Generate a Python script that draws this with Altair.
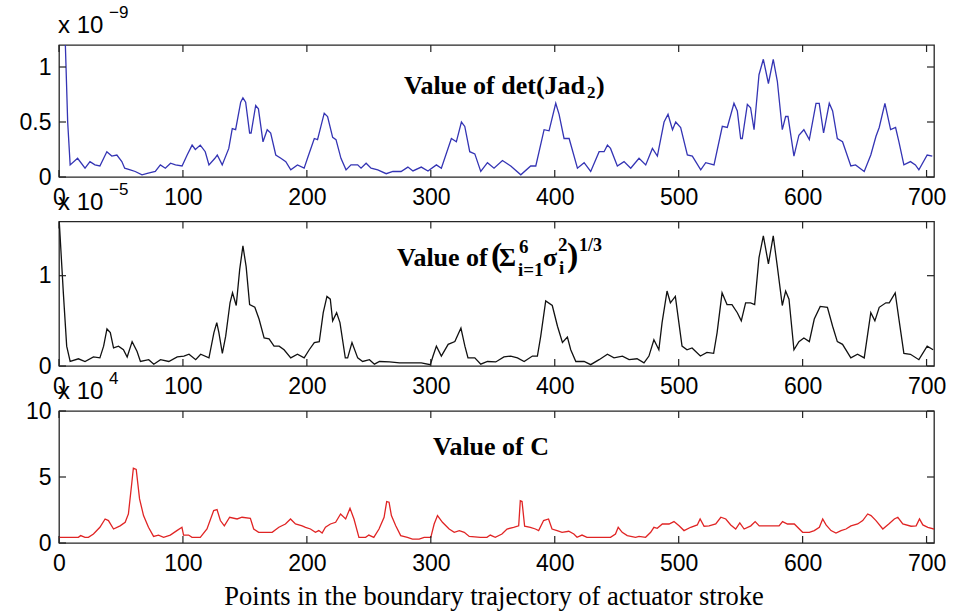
import altair as alt
import pandas as pd

# ---------------- data ----------------
x_tick_values = [0, 100, 200, 300, 400, 500, 600, 700]

# Panel 1: det(Jad2)  (x 1e-9)
det_x_a = [0, 5, 7, 9, 15, 21, 25, 29, 33, 38.6, 42.6, 46.7, 50.7, 53, 57.5, 61.5, 67, 72, 77.7, 81.8,
           85.8, 90, 94, 99.3, 103.4, 107.4, 110, 114, 118, 121, 125.8, 127.7, 131.7, 137, 139.8, 142.5,
           146.6, 148.4, 150.6, 153.8, 155, 158.7, 160.9, 164.6, 168, 170.8, 174.9, 179, 183, 187, 192.4,
           197.8, 200.5, 206, 208.6, 214, 216.7, 220.8, 223.5, 227.5, 231.6, 235.6, 241, 243.7, 247.8,
           251.8, 257.2, 264, 269.4, 276, 281.5, 285.6, 292.3, 297.7, 304.5, 308.5, 316.6, 320.6, 324.7,
           327.4, 331.4, 335.5]
det_y_a = [1.6, 1.25, 0.5, 0.11, 0.17, 0.08, 0.14, 0.11, 0.1, 0.23, 0.19, 0.2, 0.14, 0.08, 0.065, 0.05,
           0.02, 0.035, 0.05, 0.11, 0.08, 0.125, 0.11, 0.1, 0.2, 0.29, 0.25, 0.29, 0.23, 0.11, 0.17, 0.2,
           0.11, 0.26, 0.44, 0.43, 0.68, 0.72, 0.68, 0.4, 0.4, 0.65, 0.62, 0.32, 0.43, 0.4, 0.2, 0.17, 0.14,
           0.065, 0.11, 0.08, 0.17, 0.35, 0.34, 0.58, 0.55, 0.36, 0.34, 0.17, 0.065, 0.11, 0.11, 0.08,
           0.125, 0.08, 0.065, 0.03, 0.05, 0.05, 0.09, 0.055, 0.09, 0.055, 0.11, 0.08, 0.35, 0.32, 0.5,
           0.46, 0.23, 0.21]
det_x_b = [340.3, 345.7, 351, 357.8, 364.5, 372.6, 380.6, 384.7, 391.4, 395.4, 400.8, 403.5, 407.5, 411.6,
           418.3, 423.7, 429, 435.8, 439.8, 442.5, 445, 450.5, 455.9, 461.3, 468, 473.4, 478.8, 482.8,
           488.2, 491.4, 495, 497.6, 501.6, 507, 511, 517.8, 521.8, 528.5, 535.2, 539.2, 544.6, 547.3, 550,
           551.3, 555.4, 558, 560.8, 564.8, 568.3, 572.4, 576.3, 579.6, 583.6, 586.3, 588.2, 593, 597, 601,
           605.4, 610.8, 613.4, 616.9, 621.5, 624.2, 628, 632.2, 638.9, 642.7, 649.7, 655, 659.2, 661.8,
           666.4, 671, 675, 677.7, 681.7, 687, 691, 693.8, 700.5, 704.6]
det_y_b = [0.05, 0.13, 0.08, 0.15, 0.1, 0.02, 0.1, 0.1, 0.43, 0.42, 0.67, 0.57, 0.35, 0.35, 0.08, 0.13,
           0.05, 0.23, 0.23, 0.29, 0.26, 0.1, 0.14, 0.08, 0.17, 0.11, 0.26, 0.19, 0.5, 0.57, 0.43, 0.5,
           0.45, 0.2, 0.19, 0.065, 0.13, 0.11, 0.46, 0.45, 0.67, 0.6, 0.35, 0.35, 0.66, 0.63, 0.43, 0.93,
           1.07, 0.85, 1.07, 0.87, 0.43, 0.55, 0.55, 0.19, 0.38, 0.43, 0.34, 0.67, 0.67, 0.4, 0.67, 0.6,
           0.35, 0.32, 0.1, 0.11, 0.05, 0.2, 0.37, 0.45, 0.67, 0.43, 0.45, 0.32, 0.11, 0.14, 0.11, 0.065,
           0.2, 0.19]

# Panel 2: (sum sigma_i^2)^(1/3)  (x 1e-5)
sig_x_a = [0, 3.5, 6.2, 9, 15.7, 21, 27.8, 33, 36, 38.7, 41.4, 44, 48, 52, 55, 59, 63, 65.7, 72.4, 76.5,
           81.9, 88.6, 95.4, 100.8, 104.9, 110.3, 114.3, 121, 125, 127.3, 129, 131.8, 134.5, 138, 140, 143,
           145.8, 148.4, 151, 153.8, 158, 161.4, 165.5, 169.5, 173.5, 177.6, 181.6, 187, 192.4, 197.8,
           201.9, 206, 210, 213.2, 216.2, 218.9, 220.8, 224, 226.7, 231, 232.9, 236.4, 241, 245, 250.5,
           254.5, 258.6, 266.7, 274.8, 282.9, 292.3, 299.6, 301.8, 304.5, 308.5, 314, 319.4, 324.3, 327.5,
           330, 335.5]
sig_y_a = [1.65, 0.81, 0.22, 0.05, 0.08, 0.05, 0.1, 0.09, 0.22, 0.41, 0.37, 0.2, 0.22, 0.18, 0.1, 0.27,
           0.16, 0.05, 0.07, 0.02, 0.07, 0.05, 0.1, 0.11, 0.13, 0.07, 0.13, 0.09, 0.37, 0.48, 0.37, 0.14,
           0.33, 0.7, 0.81, 0.67, 1.07, 1.33, 1.1, 0.68, 0.65, 0.52, 0.31, 0.3, 0.22, 0.22, 0.18, 0.09,
           0.13, 0.09, 0.18, 0.26, 0.27, 0.59, 0.77, 0.74, 0.5, 0.59, 0.48, 0.09, 0.09, 0.26, 0.09, 0.05,
           0.07, 0.02, 0.05, 0.045, 0.035, 0.035, 0.035, 0.015, 0.11, 0.22, 0.11, 0.24, 0.27, 0.42, 0.22,
           0.09, 0.09]
sig_x_b = [340.3, 345.7, 352.4, 359, 364.5, 369.9, 375.3, 382, 386, 388.7, 392.7, 398, 402.2, 406.2,
           410.2, 412.9, 417, 423.7, 429, 435.8, 442.5, 447.8, 454.6, 460, 466.4, 472, 476, 480, 484,
           486.6, 490.6, 493.3, 497.3, 502.7, 506.7, 510.8, 517.5, 522.8, 528.2, 531, 535, 539, 543, 547.3,
           550.5, 554, 558, 561.3, 564.8, 568.3, 572.4, 576.3, 579.6, 583.6, 586.3, 589, 593, 597, 601,
           605.4, 609.4, 614.2, 620, 624.2, 628, 632.2, 638.9, 644.3, 649.7, 655, 658.3, 661.8, 667.2,
           669.9, 674.7, 677.7, 681.7, 687, 693.8, 700.5, 705.3]
sig_y_b = [0.02, 0.05, 0.045, 0.1, 0.11, 0.09, 0.05, 0.11, 0.11, 0.33, 0.72, 0.67, 0.44, 0.26, 0.32,
           0.18, 0.05, 0.05, 0.015, 0.07, 0.13, 0.09, 0.11, 0.07, 0.08, 0.035, 0.11, 0.29, 0.18, 0.48,
           0.83, 0.7, 0.77, 0.22, 0.18, 0.2, 0.11, 0.15, 0.14, 0.37, 0.81, 0.68, 0.68, 0.59, 0.5, 0.7, 0.7,
           0.68, 1.2, 1.44, 1.13, 1.44, 1.1, 0.67, 0.83, 0.74, 0.18, 0.27, 0.31, 0.27, 0.52, 0.66, 0.65,
           0.44, 0.27, 0.24, 0.09, 0.13, 0.09, 0.59, 0.5, 0.65, 0.7, 0.7, 0.81, 0.52, 0.14, 0.13, 0.07,
           0.22, 0.18]

# Panel 3: C  (x 1e4)
c_x_a = [0, 15.6, 17.5, 21, 23.7, 27.8, 33, 37.2, 39.9, 44, 49.3, 53.4, 56, 58.8, 60, 62.3, 65, 68.2,
         72.2, 76.3, 80.3, 84.4, 89.8, 95.1, 99.2, 100.5, 104.6, 107.3, 114, 119.4, 124.8, 127.5, 130.2,
         133.4, 137.7, 143.7, 147.7, 154.4, 157.1, 161.1, 165.2, 172, 177.4, 182.7, 186.8, 190.8, 196.2,
         198.9, 202.9, 206.9, 209.6, 212.3, 215, 219, 223.2, 227.2, 231.3, 234.8, 238, 242, 247.4, 250,
         254, 258.2, 262.3, 264.4, 266.3, 268.2, 271.7, 275.7, 281.1, 285.2, 290.6, 294.6, 300, 302.7,
         305.4, 309.4, 314.8, 318.9, 323, 327, 331]
c_y_a = [0.43, 0.43, 0.56, 0.43, 0.43, 0.68, 1.19, 1.82, 1.7, 1.06, 1.3, 1.57, 2.2, 4.6, 5.67, 5.57,
         3.34, 2.08, 1.19, 0.5, 0.6, 0.43, 0.6, 0.94, 1.19, 0.6, 0.6, 0.43, 0.43, 1.06, 2.46, 2.53, 1.7,
         1.3, 1.95, 1.82, 1.95, 1.87, 1.06, 0.81, 0.81, 0.81, 1.19, 1.44, 1.82, 1.44, 1.3, 1.19, 1.06,
         0.81, 0.94, 0.76, 1.19, 1.44, 1.57, 2.2, 1.82, 2.63, 1.82, 0.43, 0.43, 0.6, 0.43, 1.06, 1.95,
         3.14, 3.09, 2.08, 1.3, 0.56, 0.43, 0.3, 0.3, 0.43, 0.43, 1.44, 2.08, 1.57, 1.06, 0.81, 0.94,
         0.81, 0.5]
c_x_b = [340, 345.3, 348, 352, 357.4, 361.5, 366.8, 370.9, 372.2, 373.6, 375.7, 380.3, 384.4, 387, 391,
         395, 397.8, 401.9, 405.9, 411.3, 415.4, 418, 422, 426, 445, 449, 451.2, 454.4, 458.5, 465.2,
         468, 473.3, 477.4, 480, 482.7, 486.8, 492.2, 496.2, 500.3, 504.3, 509.7, 515, 517.3, 520.5,
         524.5, 529.9, 534, 538, 542, 546, 549.3, 552.8, 558.2, 561.7, 565, 573, 581, 583.8, 587.8,
         593.3, 600, 605.4, 609.4, 613.5, 616.2, 618.9, 622.9, 626.9, 631, 635, 639, 644.4, 648.5,
         652.5, 655.2, 659.2, 664.7, 669.5, 674, 676.8, 680.8, 687.5, 691.6, 694.3, 697, 701, 706]
c_y_b = [0.43, 0.43, 0.6, 0.43, 0.68, 1.06, 1.19, 1.3, 3.2, 3.14, 1.27, 1.19, 1.06, 0.94, 1.7, 1.82,
         1.06, 0.94, 0.81, 0.89, 0.68, 0.43, 0.6, 0.43, 0.43, 0.68, 1.19, 0.81, 0.56, 0.43, 0.5, 0.43,
         0.81, 1.19, 1.11, 1.44, 1.44, 1.62, 1.3, 0.94, 1.19, 1.37, 1.82, 1.27, 1.3, 1.44, 1.95, 1.82,
         1.37, 1.06, 1.52, 1.06, 1.3, 1.62, 1.3, 1.3, 1.3, 1.62, 1.44, 1.44, 0.81, 0.81, 0.94, 1.19,
         1.82, 1.37, 0.94, 0.76, 0.94, 1.06, 1.3, 1.44, 1.7, 2.2, 2.08, 1.7, 1.06, 1.44, 1.82, 1.95,
         1.44, 1.27, 1.3, 1.82, 1.37, 1.19, 1.06]

det_x, det_y = det_x_a + det_x_b, det_y_a + det_y_b
sig_x, sig_y = sig_x_a + sig_x_b, sig_y_a + sig_y_b
c_x, c_y = c_x_a + c_x_b, c_y_a + c_y_b

# ---------------- layout / style ----------------
W = 875
XMAX = 706
TICK_LEN = 7
SANS = "Liberation Sans"
SERIF = "Liberation Serif"


def txt(text, x, y, size, font=SERIF, weight="bold", align="left", baseline="alphabetic"):
    return alt.Chart(pd.DataFrame({"t": [text]})).mark_text(
        font=font, fontSize=size, fontWeight=weight, align=align, baseline=baseline, color="black"
    ).encode(text="t:N", x=alt.value(x), y=alt.value(y))


def panel(xs, ys, color, ydom, yticks, H, exp_sup, extra_layers, anchor=False):
    df = pd.DataFrame({"x": xs, "y": ys})
    xenc = alt.X(
        "x:Q",
        scale=alt.Scale(domain=[0, XMAX], nice=False, zero=False),
        axis=alt.Axis(values=x_tick_values, domain=False, ticks=False, tickSize=0, grid=False,
                      labelFont=SANS, labelFontSize=23, labelColor="black", labelPadding=9,
                      labelFlush=False, labelOverlap=False, format="d"),
        title=None,
    )
    yenc = alt.Y(
        "y:Q",
        scale=alt.Scale(domain=ydom, nice=False, zero=False),
        axis=alt.Axis(values=yticks, domain=False, ticks=False, tickSize=0, grid=False,
                      labelFont=SANS, labelFontSize=23, labelColor="black", labelPadding=8,
                      labelFlush=False, labelOverlap=False, format=".2~f"),
        title=None,
    )
    line = alt.Chart(df).mark_line(color=color, strokeWidth=1.3, clip=True).encode(x=xenc, y=yenc)
    xt = pd.DataFrame({"x": x_tick_values})
    yt = pd.DataFrame({"y": yticks})
    tb = alt.Chart(xt).mark_rule(color="#222", strokeWidth=1.2).encode(
        x=xenc, y=alt.value(H), y2=alt.value(H - TICK_LEN))
    tt = alt.Chart(xt).mark_rule(color="#222", strokeWidth=1.2).encode(
        x=xenc, y=alt.value(0), y2=alt.value(TICK_LEN))
    tl = alt.Chart(yt).mark_rule(color="#222", strokeWidth=1.2).encode(
        y=yenc, x=alt.value(0), x2=alt.value(TICK_LEN))
    tr = alt.Chart(yt).mark_rule(color="#222", strokeWidth=1.2).encode(
        y=yenc, x=alt.value(W), x2=alt.value(W - TICK_LEN))
    layers = [line, tb, tt, tl, tr,
              txt("x 10", -1, -12, 24, font=SANS, weight="normal"),
              txt(exp_sup, 50, -27, 17, font=SANS, weight="normal")]
    layers += extra_layers
    if anchor:
        layers.append(alt.Chart(pd.DataFrame({"a": [0]})).mark_rule(color="white", strokeWidth=0.5).encode(
            x=alt.value(-58), x2=alt.value(-57), y=alt.value(-44), y2=alt.value(-44)))
    return alt.layer(*layers).properties(width=W, height=H)


title1 = [
    txt("Value of det(Jad", 345, 49, 26),
    txt("2", 528, 53, 17),
    txt(")", 537, 49, 26),
]
title2 = [
    txt("Value of ", 338, 44.5, 26),
    txt("(", 432, 44.5, 34),
    txt("Σ", 440, 44.5, 26),
    txt("6", 460, 31.5, 19),
    txt("i=1", 459, 54.5, 19),
    txt("σ", 484, 44.5, 26),
    txt("2", 499, 29.5, 19),
    txt("i", 500, 52.5, 19),
    txt(")", 508, 44.5, 34),
    txt("1/3", 520, 29.5, 18),
]
title3 = [
    txt("Value of C", 374, 43.5, 26),
    txt("Points in the boundary trajectory of actuator stroke", 435, 194, 26.5,
        weight="normal", align="center"),
]

p1 = panel(det_x, det_y, "#3434B4", [0, 1.2], [0, 0.5, 1], 132, "−9", title1, anchor=True)
p2 = panel(sig_x, sig_y, "#111111", [0, 1.6], [0, 1], 144.5, "−5", title2)
p3 = panel(c_x, c_y, "#E02424", [0, 10], [0, 5, 10], 132, "4", title3)

chart = alt.vconcat(p1, p2, p3, spacing=44.5, bounds="flush").properties(
    padding=0, background="white"
).configure_view(stroke="#262626", strokeWidth=1.3)

chart.save("out.html", embed_options={"renderer": "svg", "actions": False})
